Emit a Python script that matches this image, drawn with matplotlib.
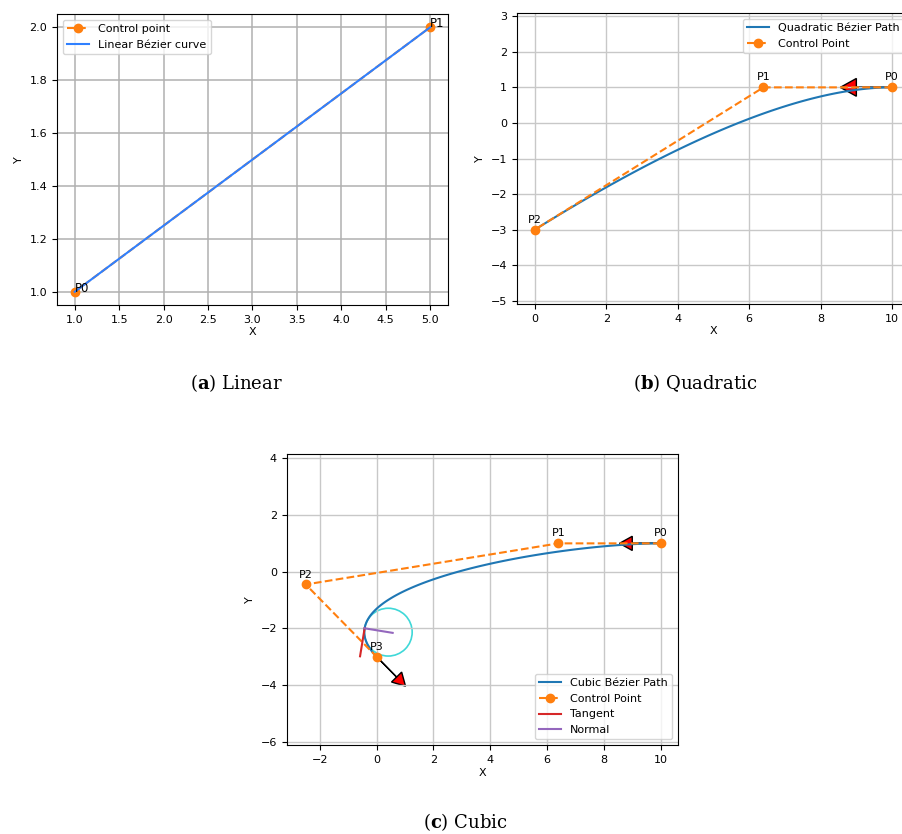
import math

import matplotlib

matplotlib.use("Agg")
import matplotlib.pyplot as plt  # noqa: E402
import numpy as np  # noqa: E402
from matplotlib.patches import Circle  # noqa: E402

plt.rcParams["font.size"] = 8
plt.rcParams["mathtext.fontset"] = "dejavuserif"

ORANGE = "#ff7f0e"
BLUE = "#1f77b4"

# control points of each curve
linear_x = [1.0, 5.0]
linear_y = [1.0, 2.0]
linear_labels = ["P0", "P1"]

quad_x = [10.0, 6.4, 0.0]
quad_y = [1.0, 1.0, -3.0]
quad_labels = ["P0", "P1", "P2"]

cubic_x = [10.0, 6.4, -2.5, 0.0]
cubic_y = [1.0, 1.0, -0.45, -3.0]
cubic_labels = ["P0", "P1", "P2", "P3"]

# parameter where tangent / normal / osculating circle are shown
cubic_t_probe = 0.86

captions = [("a", "Linear"), ("b", "Quadratic"), ("c", "Cubic")]


def bezier(px, py, t):
    n = len(px) - 1
    t = np.asarray(t, dtype=float)
    x = np.zeros_like(t)
    y = np.zeros_like(t)
    for i in range(n + 1):
        b = math.comb(n, i) * (1 - t) ** (n - i) * t ** i
        x += b * px[i]
        y += b * py[i]
    return x, y


def bezier_deriv(px, py):
    n = len(px) - 1
    dx = [n * (px[i + 1] - px[i]) for i in range(n)]
    dy = [n * (py[i + 1] - py[i]) for i in range(n)]
    return dx, dy


def direction_arrow(ax, x, y, ux, uy, color="r"):
    ax.arrow(x, y, ux, uy, head_width=0.5, head_length=0.45,
             fc=color, ec="k")


fig = plt.figure(figsize=(9.03, 8.34), dpi=100)

# (a) linear
ax = fig.add_axes([0.0631, 0.6343, 0.433, 0.3489])
ax.plot(linear_x, linear_y, "o--", color=ORANGE, label="Control point")
t = np.linspace(0, 1, 100)
bx, by = bezier(linear_x, linear_y, t)
ax.plot(bx, by, color="#2f80ff", label="Linear Bézier curve")
for x, y, lab in zip(linear_x, linear_y, linear_labels):
    ax.text(x, y, lab, fontsize=8.5)
ax.set_xlim(0.8, 5.2)
ax.set_ylim(0.95, 2.05)
ax.set_xlabel("X", labelpad=2)
ax.set_ylabel("Y")
ax.grid(True, color="#b0b0b0", linewidth=1.1)
ax.legend(loc="upper left")

# (b) quadratic
ax = fig.add_axes([0.5725, 0.6355, 0.4352, 0.3489])
bx, by = bezier(quad_x, quad_y, t)
ax.plot(bx, by, color=BLUE, label="Quadratic Bézier Path")
ax.plot(quad_x, quad_y, "o--", color=ORANGE, label="Control Point")
for x, y, lab in zip(quad_x, quad_y, quad_labels):
    ax.annotate(lab, (x, y), xytext=(0, 5), textcoords="offset points",
                ha="center", fontsize=8)
dx, dy = bezier_deriv(quad_x, quad_y)
norm = math.hypot(dx[0], dy[0])
direction_arrow(ax, quad_x[0], quad_y[0], dx[0] / norm, dy[0] / norm)
ax.set_xlim(-0.5, 10.5)
ax.set_ylim(-5.09, 3.09)
ax.set_xticks([0, 2, 4, 6, 8, 10])
ax.set_yticks(range(-5, 4))
ax.set_xlabel("X", labelpad=2)
ax.set_ylabel("Y")
ax.grid(True, color="#c8c8c8", linewidth=1)
ax.legend(loc="upper right")

# (c) cubic
ax = fig.add_axes([0.3175, 0.1067, 0.4333, 0.3489])
bx, by = bezier(cubic_x, cubic_y, t)
ax.plot(bx, by, color=BLUE, label="Cubic Bézier Path")
ax.plot(cubic_x, cubic_y, "o--", color=ORANGE, label="Control Point")
for x, y, lab in zip(cubic_x, cubic_y, cubic_labels):
    ax.annotate(lab, (x, y), xytext=(0, 5), textcoords="offset points",
                ha="center", fontsize=8)

# tangent, normal and curvature circle at the probe parameter
dx, dy = bezier_deriv(cubic_x, cubic_y)
ddx, ddy = bezier_deriv(dx, dy)
px, py = bezier(cubic_x, cubic_y, np.array([cubic_t_probe]))
vx, vy = bezier(dx, dy, np.array([cubic_t_probe]))
ax2, ay2 = bezier(ddx, ddy, np.array([cubic_t_probe]))
px, py, vx, vy, ax2, ay2 = (float(v[0]) for v in (px, py, vx, vy, ax2, ay2))
speed = math.hypot(vx, vy)
tx, ty = vx / speed, vy / speed
nx, ny = -ty, tx
curv = (vx * ay2 - vy * ax2) / speed ** 3
radius = 1.0 / abs(curv)
ax.plot([px, px + tx], [py, py + ty], color="#d62728", label="Tangent")
ax.plot([px, px + nx], [py, py + ny], color="#9467bd", label="Normal")
ax.add_patch(Circle((px + nx * radius, py + ny * radius), radius,
                    fill=False, color="#3fd8d8", linewidth=1.2))

norm0 = math.hypot(dx[0], dy[0])
direction_arrow(ax, cubic_x[0], cubic_y[0], dx[0] / norm0, dy[0] / norm0)
norm1 = math.hypot(dx[-1], dy[-1])
direction_arrow(ax, cubic_x[-1], cubic_y[-1], dx[-1] / norm1, dy[-1] / norm1)

ax.set_xlim(-3.17, 10.61)
ax.set_ylim(-6.11, 4.15)
ax.set_xticks([-2, 0, 2, 4, 6, 8, 10])
ax.set_yticks([-6, -4, -2, 0, 2, 4])
ax.set_xlabel("X", labelpad=2)
ax.set_ylabel("Y")
ax.grid(True, color="#c8c8c8", linewidth=1)
ax.legend(loc="lower right")

# sub-figure captions
caption_pos = [(0.262, 0.5336), (0.770, 0.5336), (0.515, 0.0072)]
for (letter, name), (cx, cy) in zip(captions, caption_pos):
    fig.text(cx, cy, rf"($\mathbf{{{letter}}}$) {name}", ha="center",
             va="baseline", fontsize=13, family="DejaVu Serif")

fig.savefig("out.png", dpi=100)
